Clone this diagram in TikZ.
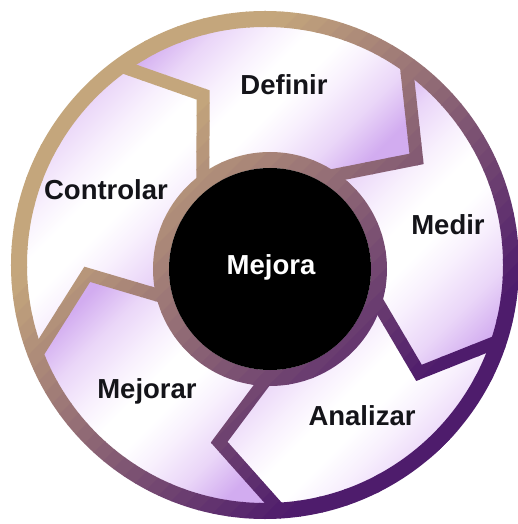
\documentclass[tikz,border=0pt]{standalone}
\usepackage{fontspec}
\setmainfont{Liberation Sans}
\usetikzlibrary{calc}
\definecolor{tanc}{RGB}{196,166,124}
\definecolor{purpc}{RGB}{78,28,108}
\definecolor{lav}{RGB}{210,172,240}
\definecolor{lavm}{RGB}{234,214,248}
\definecolor{lavl}{RGB}{248,240,253}
\definecolor{txt}{RGB}{20,20,25}
\pgfdeclareverticalshading{segsh}{100bp}{color(0bp)=(lav); color(25bp)=(lav); color(33bp)=(lavm); color(41bp)=(lavl); color(47bp)=(white); color(53bp)=(white); color(59bp)=(lavl); color(67bp)=(lavm); color(75bp)=(lav); color(100bp)=(lav)}
\tikzset{
  seg/.style={shading=segsh, shading angle=45},
  lbl/.style={anchor=base, font=\fontsize{27.5}{30}\selectfont\bfseries, text=txt, inner sep=0pt},
  ringline/.style={line width=16pt},
  divline/.style={line width=13pt, line join=miter},
}
\newcommand{\mylines}[1]{%
  \draw[ringline, #1] (0,0) circle[radius=246pt];
  \draw[ringline, #1] (ic) circle[radius=109pt];
  \foreach \k in {1,...,5}{\draw[divline, #1] (O\k) -- (K\k) -- (I\k);}
}
\begin{document}
\begin{tikzpicture}[x=1pt,y=1pt]
\useasboundingbox (-265,-259) rectangle (252,265);
\fill[white] (-265,-259) rectangle (252,265);
\coordinate (ic) at (5,-4);
% dividers: outer point, corner, inner point
\coordinate (O1) at (126:246pt);   \coordinate (K1) at (110:181pt);   \coordinate (I1) at ($(ic)+(128:109pt)$);
\coordinate (O2) at (55:246pt);    \coordinate (K2) at (35:185pt);    \coordinate (I2) at ($(ic)+(58:109pt)$);
\coordinate (O3) at (-18:246pt);   \coordinate (K3) at (-35:188pt);   \coordinate (I3) at ($(ic)+(-15.5:109pt)$);
\coordinate (O4) at (-86.5:246pt); \coordinate (K4) at (-104.5:183pt);\coordinate (I4) at ($(ic)+(-91.5:109pt)$);
\coordinate (O5) at (-158.5:246pt);\coordinate (K5) at (-177:178pt);  \coordinate (I5) at ($(ic)+(-165:109pt)$);
% segments
\shade[seg] (O1) -- (K1) -- (I1) arc[start angle=128,end angle=58,radius=109pt] -- (K2) -- (O2) arc[start angle=55,end angle=126,radius=246pt] -- cycle;
\shade[seg] (O2) -- (K2) -- (I2) arc[start angle=58,end angle=-15.5,radius=109pt] -- (K3) -- (O3) arc[start angle=-18,end angle=55,radius=246pt] -- cycle;
\shade[seg] (O3) -- (K3) -- (I3) arc[start angle=-15.5,end angle=-91.5,radius=109pt] -- (K4) -- (O4) arc[start angle=-86.5,end angle=-18,radius=246pt] -- cycle;
\shade[seg] (O4) -- (K4) -- (I4) arc[start angle=-91.5,end angle=-165,radius=109pt] -- (K5) -- (O5) arc[start angle=-158.5,end angle=-86.5,radius=246pt] -- cycle;
\shade[seg] (O5) -- (K5) -- (I5) arc[start angle=-165,end angle=-232,radius=109pt] -- (K1) -- (O1) arc[start angle=126,end angle=201.5,radius=246pt] -- cycle;
% gradient lines drawn in diagonal bands
\foreach \i in {0,...,59}{
  \pgfmathsetmacro{\sa}{-560+\i*18}
  \pgfmathsetmacro{\sb}{\sa+19}
  \pgfmathsetmacro{\pp}{min(100,max(0,(\sa+9+230)/5))}
  \begin{scope}
    \clip[rotate=-45] ({\sa/1.41421},-700) rectangle ({\sb/1.41421},700);
    \mylines{draw=purpc!\pp!tanc}
  \end{scope}
}
% centre
\fill[black] (ic) circle[radius=101pt];
\node[lbl, text=white] (mejora) at (6,-10) {Mejora};
\node[lbl] (definir) at (19,170) {Definir};
\node[lbl] (medir) at (183,30) {Medir};
\node[lbl] (analizar) at (97,-160) {Analizar};
\node[lbl] (mejorar) at (-118,-133) {Mejorar};
\node[lbl] (controlar) at (-159,65) {Controlar};
\end{tikzpicture}
\end{document}
